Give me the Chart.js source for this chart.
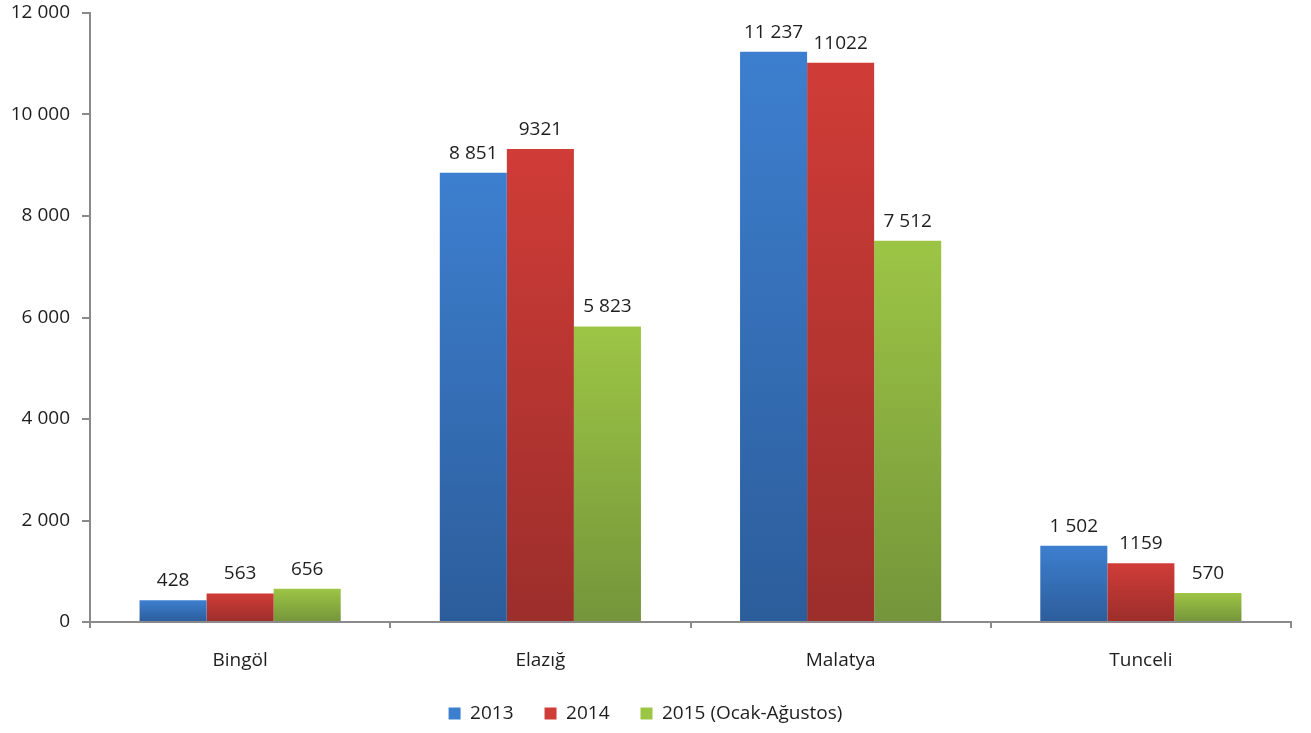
<!DOCTYPE html>
<html>
<head>
<meta charset="utf-8">
<script src="https://cdn.jsdelivr.net/npm/chart.js@4.4.1/dist/chart.umd.min.js"></script>
<style>
  html, body { margin: 0; padding: 0; background: #fff; }
  #wrap { width: 1311px; height: 733px; }
</style>
</head>
<body>
<div id="wrap"><canvas id="chartIller" width="1311" height="733"></canvas></div>
<script>
const provinces   = ['Bingöl', 'Elazığ', 'Malatya', 'Tunceli'];
const seriesNames = ['2013', '2014', '2015 (Ocak-Ağustos)'];
const values2013  = [428, 8851, 11237, 1502];
const values2014  = [563, 9321, 11022, 1159];
const values2015  = [656, 5823, 7512, 570];
const yTicks      = [0, 2000, 4000, 6000, 8000, 10000, 12000];

const axisColor = '#8a8a8a';
const textColor = '#1e1e1e';
const font      = { family: 'Open Sans', size: 19 };

// top / bottom shade of each series
const SHADES = [
    ['#3d7fcf', '#2c5d9b'],
    ['#d03c37', '#9c2e2b'],
    ['#9dc545', '#74953a']
];

// 12000 -> "12 000"; the 2014 labels are written without a separator
function fmt(v, sep) {
    return String(v).replace(/\B(?=(\d{3})+(?!\d))/g, sep);
}

// vertical gradient over each bar, from its top down to the zero line
function barGradient(idx) {
    return ctx => {
        const chart = ctx.chart;
        const y = chart.scales.y;
        if (!y || ctx.raw === undefined) return SHADES[idx][0];
        const top = y.getPixelForValue(ctx.raw);
        const base = y.getPixelForValue(0);
        if (!isFinite(top) || !isFinite(base) || base - top < 1) return SHADES[idx][0];
        const g = chart.ctx.createLinearGradient(0, top, 0, base);
        g.addColorStop(0, SHADES[idx][0]);
        g.addColorStop(1, SHADES[idx][1]);
        return g;
    };
}

// ── value labels above the bars ──
const valueLabels = {
    id: 'valueLabels',
    afterDatasetsDraw(chart) {
        const c = chart.ctx;
        c.save();
        c.font = `${font.size}px "${font.family}"`;
        c.fillStyle = textColor;
        c.textAlign = 'center';
        c.textBaseline = 'alphabetic';
        chart.data.datasets.forEach((ds, i) => {
            chart.getDatasetMeta(i).data.forEach((bar, j) => {
                c.fillText(fmt(ds.data[j], ds.sep), bar.x, bar.y - 14);
            });
        });
        c.restore();
    }
};

const seriesValues = [values2013, values2014, values2015];
const separators   = [' ', '', ' '];

new Chart(document.getElementById('chartIller'), {
    type: 'bar',
    data: {
        labels: provinces,
        datasets: seriesNames.map((name, i) => ({
            label: name,
            data: seriesValues[i],
            sep: separators[i],
            backgroundColor: barGradient(i),
            borderWidth: 0,
            categoryPercentage: 0.67,
            barPercentage: 1.0
        }))
    },
    options: {
        responsive: false,
        animation: false,
        layout: { padding: { top: 13, right: 20, left: 0, bottom: 0 } },
        plugins: {
            tooltip: { enabled: false },
            legend: {
                position: 'bottom',
                labels: {
                    font,
                    color: textColor,
                    boxWidth: 12,
                    boxHeight: 12,
                    padding: 31,
                    generateLabels: chart => chart.data.datasets.map((ds, i) => ({
                        text: ds.label,
                        fillStyle: SHADES[i][0],
                        strokeStyle: SHADES[i][0],
                        lineWidth: 0,
                        fontColor: textColor,
                        datasetIndex: i
                    }))
                }
            }
        },
        scales: {
            x: {
                grid: { drawOnChartArea: false, offset: true, tickLength: 6, color: axisColor, lineWidth: 2 },
                border: { color: axisColor, width: 2 },
                ticks: { font, color: textColor, padding: 21 },
                afterFit: s => { s.height = 51; }
            },
            y: {
                min: 0,
                max: 12000,
                grid: { drawOnChartArea: false, tickLength: 8, color: axisColor, lineWidth: 2 },
                border: { color: axisColor, width: 2 },
                afterBuildTicks: s => { s.ticks = yTicks.map(v => ({ value: v })); },
                ticks: { font, color: textColor, padding: 12, callback: v => fmt(v, ' ') },
                afterFit: s => { s.width = 90; s.paddingTop = 0; s.paddingBottom = 0; }
            }
        }
    },
    plugins: [valueLabels]
});
</script>
</body>
</html>
